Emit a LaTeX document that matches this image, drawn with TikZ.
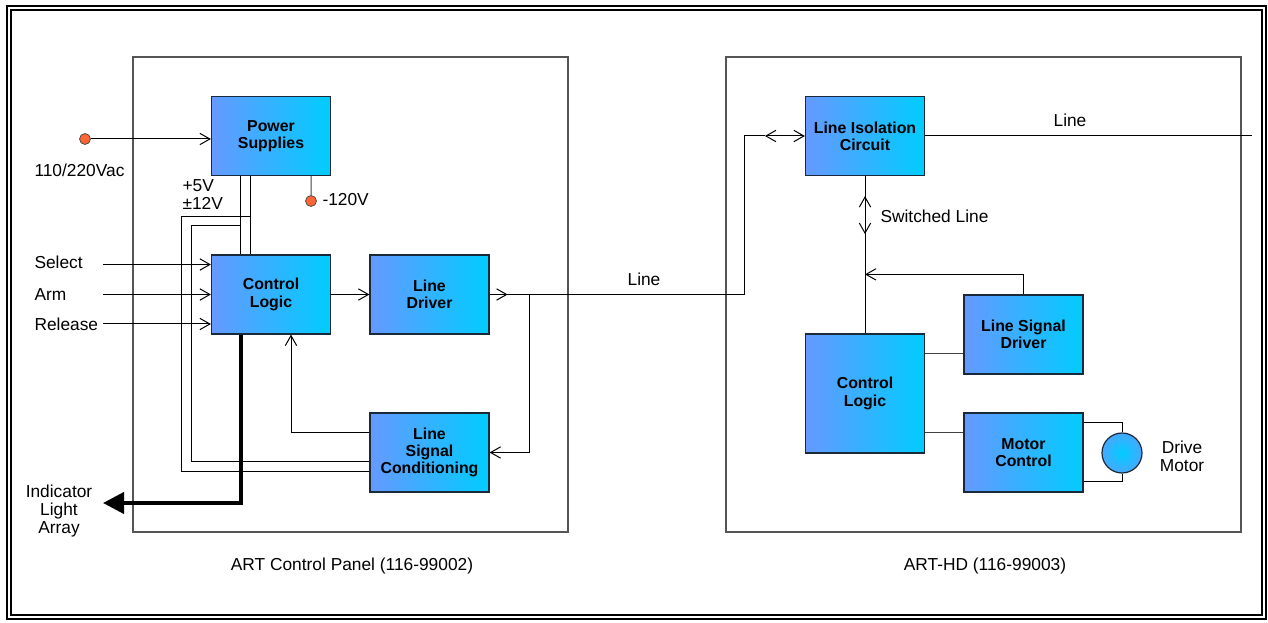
\documentclass[tikz,border=0pt]{standalone}
\usepackage{fontspec}
\setmainfont{Liberation Sans}
\usetikzlibrary{arrows.meta,calc}
\definecolor{boxL}{HTML}{6699FF}
\definecolor{boxR}{HTML}{00CCFF}
\definecolor{dotc}{HTML}{FF6633}
\definecolor{paneg}{HTML}{555555}
\definecolor{boxedge}{HTML}{1A2A3A}
\begin{document}
\begin{tikzpicture}[x=0.75pt,y=-0.75pt,line width=0.75pt,
  blk/.style={draw=boxedge,line width=0.9pt,left color=boxL,right color=boxR,
    minimum width=89.25pt,minimum height=59.25pt,inner sep=0pt,align=center,
    font=\fontsize{11.9}{13}\selectfont\bfseries},
  lbl/.style={font=\fontsize{13}{13.5}\selectfont,inner sep=0pt},
  arr/.style={-{Straight Barb[length=7.5pt,width=8.5pt]}},
  darr/.style={{Straight Barb[length=7.5pt,width=8.5pt]}-{Straight Barb[length=7.5pt,width=8.5pt]}},
  dotn/.style={circle,draw=black!70,fill=dotc,minimum size=8.2pt,inner sep=0pt,line width=0.6pt},
  pane/.style={draw=paneg,line width=0.9pt},
  gw/.style={draw=black!75}]
\useasboundingbox (0,0) rectangle (1268,623);
% frame
\draw[line width=1.5pt] (7,6) rectangle (1266,619);
\draw[line width=1.5pt] (11,10) rectangle (1262,615);
% panels
\draw[pane] (133,57) rectangle (568,532);
\draw[pane] (726,57) rectangle (1241,532);
\node[lbl] (t1) at (352,566) {ART Control Panel (116-99002)};
\node[lbl] (t2) at (985,566) {ART-HD (116-99003)};
% left boxes
\node[blk] (PS) at (271,136) {Power\\Supplies};
\node[blk] (CL) at (271,294.5) {Control\\Logic};
\node[blk] (LD) at (429.5,294.5) {Line\\Driver};
\node[blk] (LSC) at (429.5,452.5) {Line\\Signal\\Conditioning};
% right boxes
\node[blk] (LIC) at (865,136) {Line Isolation\\Circuit};
\node[blk] (LSD) at (1023.5,334.5) {Line Signal\\Driver};
\node[blk,minimum height=89.25pt] (CLR) at (865,393.5) {Control\\Logic};
\node[blk] (MC) at (1023.5,452.5) {Motor\\Control};
\node[circle,draw=boxedge,line width=0.9pt,inner color=boxR,outer color=boxL!70!boxR,minimum size=30pt,inner sep=0pt] (motor) at (1122,453) {};
\node[lbl,align=center,font=\fontsize{13}{13.5}\selectfont] (dm) at (1182,456) {Drive\\Motor};
% power input
\node[dotn] (acdot) at (85,139) {};
\node[lbl,anchor=west] (acl) at (34,170) {110/220Vac};
\draw[arr] (acdot) -- (acdot -| PS.west);
\node[dotn] (vdot) at (311,201) {};
\node[lbl,anchor=west] (vl) at (322,200) {-120V};
\draw[gw] ($(PS.south east)+(-20,0)$) -- (vdot);
\node[lbl,anchor=west] (p5) at (182,186) {+5V};
\node[lbl,anchor=west] (p12) at (182,203) {±12V};
% power rails
\draw ($(PS.south west)+(30,0)$) -- ($(CL.north west)+(30,0)$);
\draw ($(PS.south west)+(40,0)$) -- ($(CL.north west)+(40,0)$);
\draw ($(PS.south west)+(40,40)$) -| ($(LSC.west)+(-188,19.5)$) -- ($(LSC.west)+(0,19.5)$);
\draw ($(PS.south west)+(30,49)$) -| ($(LSC.west)+(-178,9.5)$) -- ($(LSC.west)+(0,9.5)$);
% inputs
\coordinate (sel) at (103,264.5);
\coordinate (arm) at (103,294.5);
\coordinate (rel) at (103,324);
\node[lbl,anchor=west] (sell) at (34,262) {Select};
\node[lbl,anchor=west] (arml) at (34,295) {Arm};
\node[lbl,anchor=west] (rell) at (34,324) {Release};
\draw[arr] (sel) -- (sel -| CL.west);
\draw[arr] (arm) -- (arm -| CL.west);
\draw[arr] (rel) -- (rel -| CL.west);
% control logic to line driver
\draw[arr] (CL.east) -- (LD.west);
% line driver out
\draw[arr] (LD.east) -- ++(18,0);
\draw (LD.east) -| ($(LIC.west)+(-60,0)$) -- ($(LIC.west)+(-40,0)$);
\draw[darr] ($(LIC.west)+(-40,0)$) -- (LIC.west);
\node[lbl] (linel) at (644,279) {Line};
\coordinate (j1) at ($(LD.east)+(39.5,0)$);
\draw[arr] (j1) |- (LSC.east);
% feedback
\draw[arr] ($(LSC.west)+(0,-19.5)$) -| ($(CL.south)+(20,0)$);
% indicator
\coordinate (indtip) at (103,503);
\draw[line width=3pt,-{Triangle[length=15.75pt,width=15.75pt]}] ($(CL.south)+(-30,0)$) |- (indtip);
\node[lbl,align=center,font=\fontsize{13}{13.2}\selectfont] (indl) at (59,511) {Indicator\\Light\\Array};
% right side
\coordinate (lend) at (1252,136);
\draw (LIC.east) -- (lend);
\node[lbl] (line2) at (1070,120) {Line};
\draw (LIC.south) -- (CLR.north);
\draw[darr] ($(LIC.south)+(0,20)$) -- ($(LIC.south)+(0,58)$);
\node[lbl,anchor=west] (swl) at (880,216) {Switched Line};
\draw[arr] (LSD.north) |- ($(CLR.north)+(0,-59)$);
\coordinate (q1) at ($(LSD.west)+(0,19.5)$);
\draw[gw] (q1) -- (q1 -| CLR.east);
\coordinate (q2) at ($(MC.west)+(0,-19.5)$);
\draw[gw] (q2) -- (q2 -| CLR.east);
\draw ($(MC.east)+(0,-29.5)$) -| (motor.north);
\draw ($(MC.east)+(0,29.5)$) -| (motor.south);
\end{tikzpicture}
\end{document}
